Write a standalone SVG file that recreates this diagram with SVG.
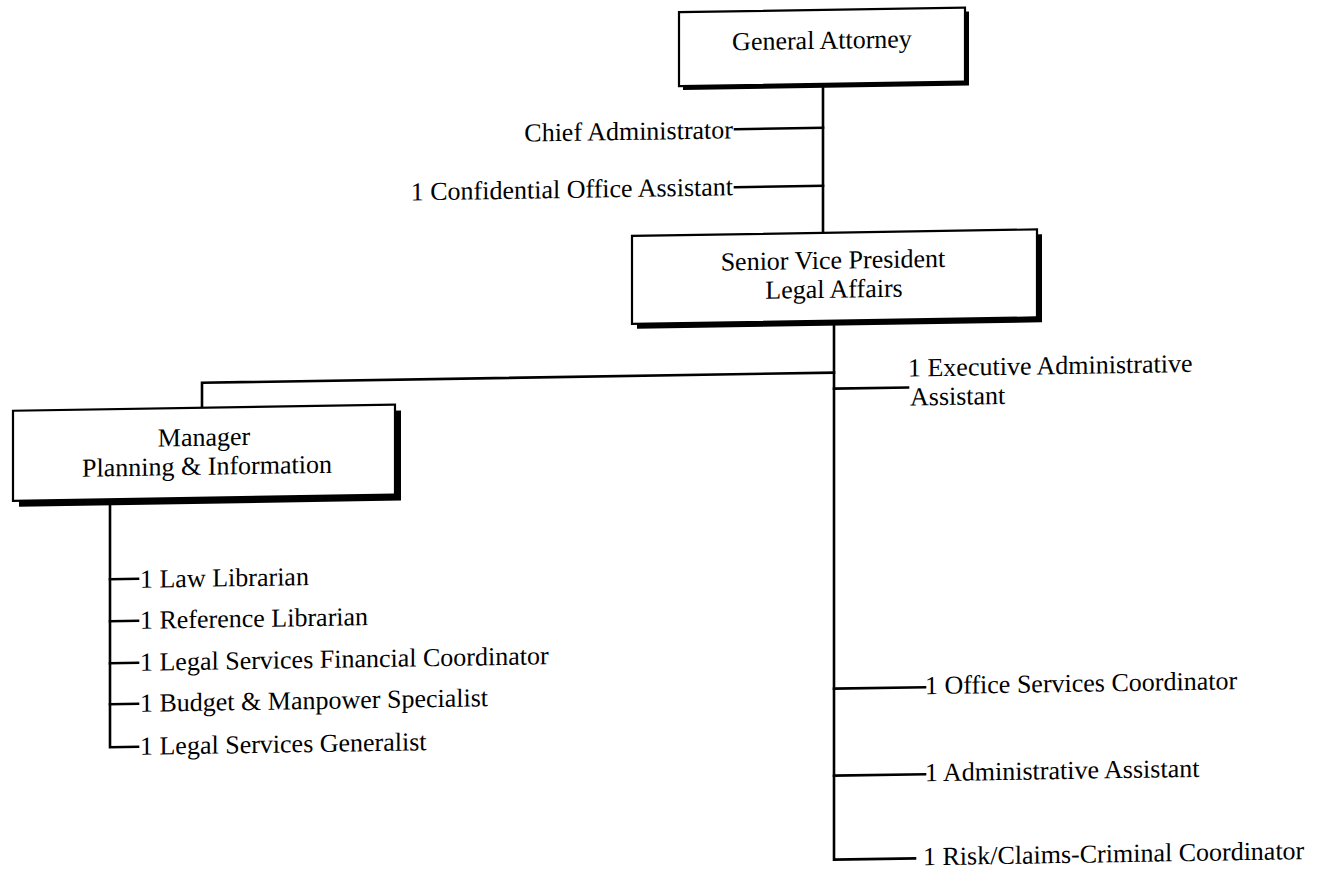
<svg xmlns="http://www.w3.org/2000/svg" width="1325" height="875" viewBox="0 0 1325 875">
  <style>
    .box { fill: #ffffff; stroke: #000000; stroke-width: 2.2; }
    .shadow { fill: #000000; }
    .t { font-family: "Liberation Serif", "Times New Roman", serif; font-size: 26px; fill: #000000; }
    .c { text-anchor: middle; }
    .e { text-anchor: end; }
    .ln { fill: none; stroke: #000000; stroke-width: 2.6; stroke-linecap: square; stroke-linejoin: miter; }
  </style>
  <rect x="0" y="0" width="1325" height="875" fill="#ffffff"/>
  <g transform="matrix(1,-0.016,0,1,0,0)">
    <g id="connectors">
      <path class="ln" d="M823 97 V246"/>
      <path class="ln" d="M735 141 H823"/>
      <path class="ln" d="M735 199 H823"/>
      <path class="ln" d="M834 338 V873 H915"/>
      <path class="ln" d="M202 411 V386 H834"/>
      <path class="ln" d="M834 402 H908"/>
      <path class="ln" d="M834 702 H925"/>
      <path class="ln" d="M834 789 H925"/>
      <path class="ln" d="M110 505 V749 H138"/>
      <path class="ln" d="M110 581 H138"/>
      <path class="ln" d="M110 623 H138"/>
      <path class="ln" d="M110 665 H138"/>
      <path class="ln" d="M110 706 H138"/>
    </g>
    <g id="general-attorney">
      <rect class="shadow" x="683" y="27" width="286" height="74"/>
      <rect class="box" x="679" y="23" width="286" height="74"/>
      <text class="t c" x="822" y="62">General Attorney</text>
    </g>
    <g id="chief-administrator">
      <text class="t e" x="733" y="150">Chief Administrator</text>
    </g>
    <g id="confidential-office-assistant">
      <text class="t e" x="733" y="207">1 Confidential Office Assistant</text>
    </g>
    <g id="senior-vice-president">
      <rect class="shadow" x="637" y="251" width="405" height="88"/>
      <rect class="box" x="632" y="246" width="405" height="88"/>
      <text class="t c" x="833" y="282">Senior Vice President</text>
      <text class="t c" x="834" y="311">Legal Affairs</text>
    </g>
    <g id="manager-planning">
      <rect class="shadow" x="19" y="417" width="382" height="90"/>
      <rect class="box" x="13" y="411" width="382" height="90"/>
      <text class="t c" x="204" y="449">Manager</text>
      <text class="t c" x="207" y="478">Planning &amp; Information</text>
    </g>
    <g id="executive-administrative-assistant">
      <text class="t" x="908" y="391">1 Executive Administrative</text>
      <text class="t" x="910" y="420">Assistant</text>
    </g>
    <g id="office-services-coordinator">
      <text class="t" x="925" y="709">1 Office Services Coordinator</text>
    </g>
    <g id="administrative-assistant">
      <text class="t" x="925" y="796">1 Administrative Assistant</text>
    </g>
    <g id="risk-claims-criminal-coordinator">
      <text class="t" x="923" y="880">1 Risk/Claims-Criminal Coordinator</text>
    </g>
    <g id="law-librarian">
      <text class="t" x="140" y="590">1 Law Librarian</text>
    </g>
    <g id="reference-librarian">
      <text class="t" x="140" y="631">1 Reference Librarian</text>
    </g>
    <g id="legal-services-financial-coordinator">
      <text class="t" x="140" y="673">1 Legal Services Financial Coordinator</text>
    </g>
    <g id="budget-manpower-specialist">
      <text class="t" x="140" y="714">1 Budget &amp; Manpower Specialist</text>
    </g>
    <g id="legal-services-generalist">
      <text class="t" x="140" y="757">1 Legal Services Generalist</text>
    </g>
  </g>
</svg>
